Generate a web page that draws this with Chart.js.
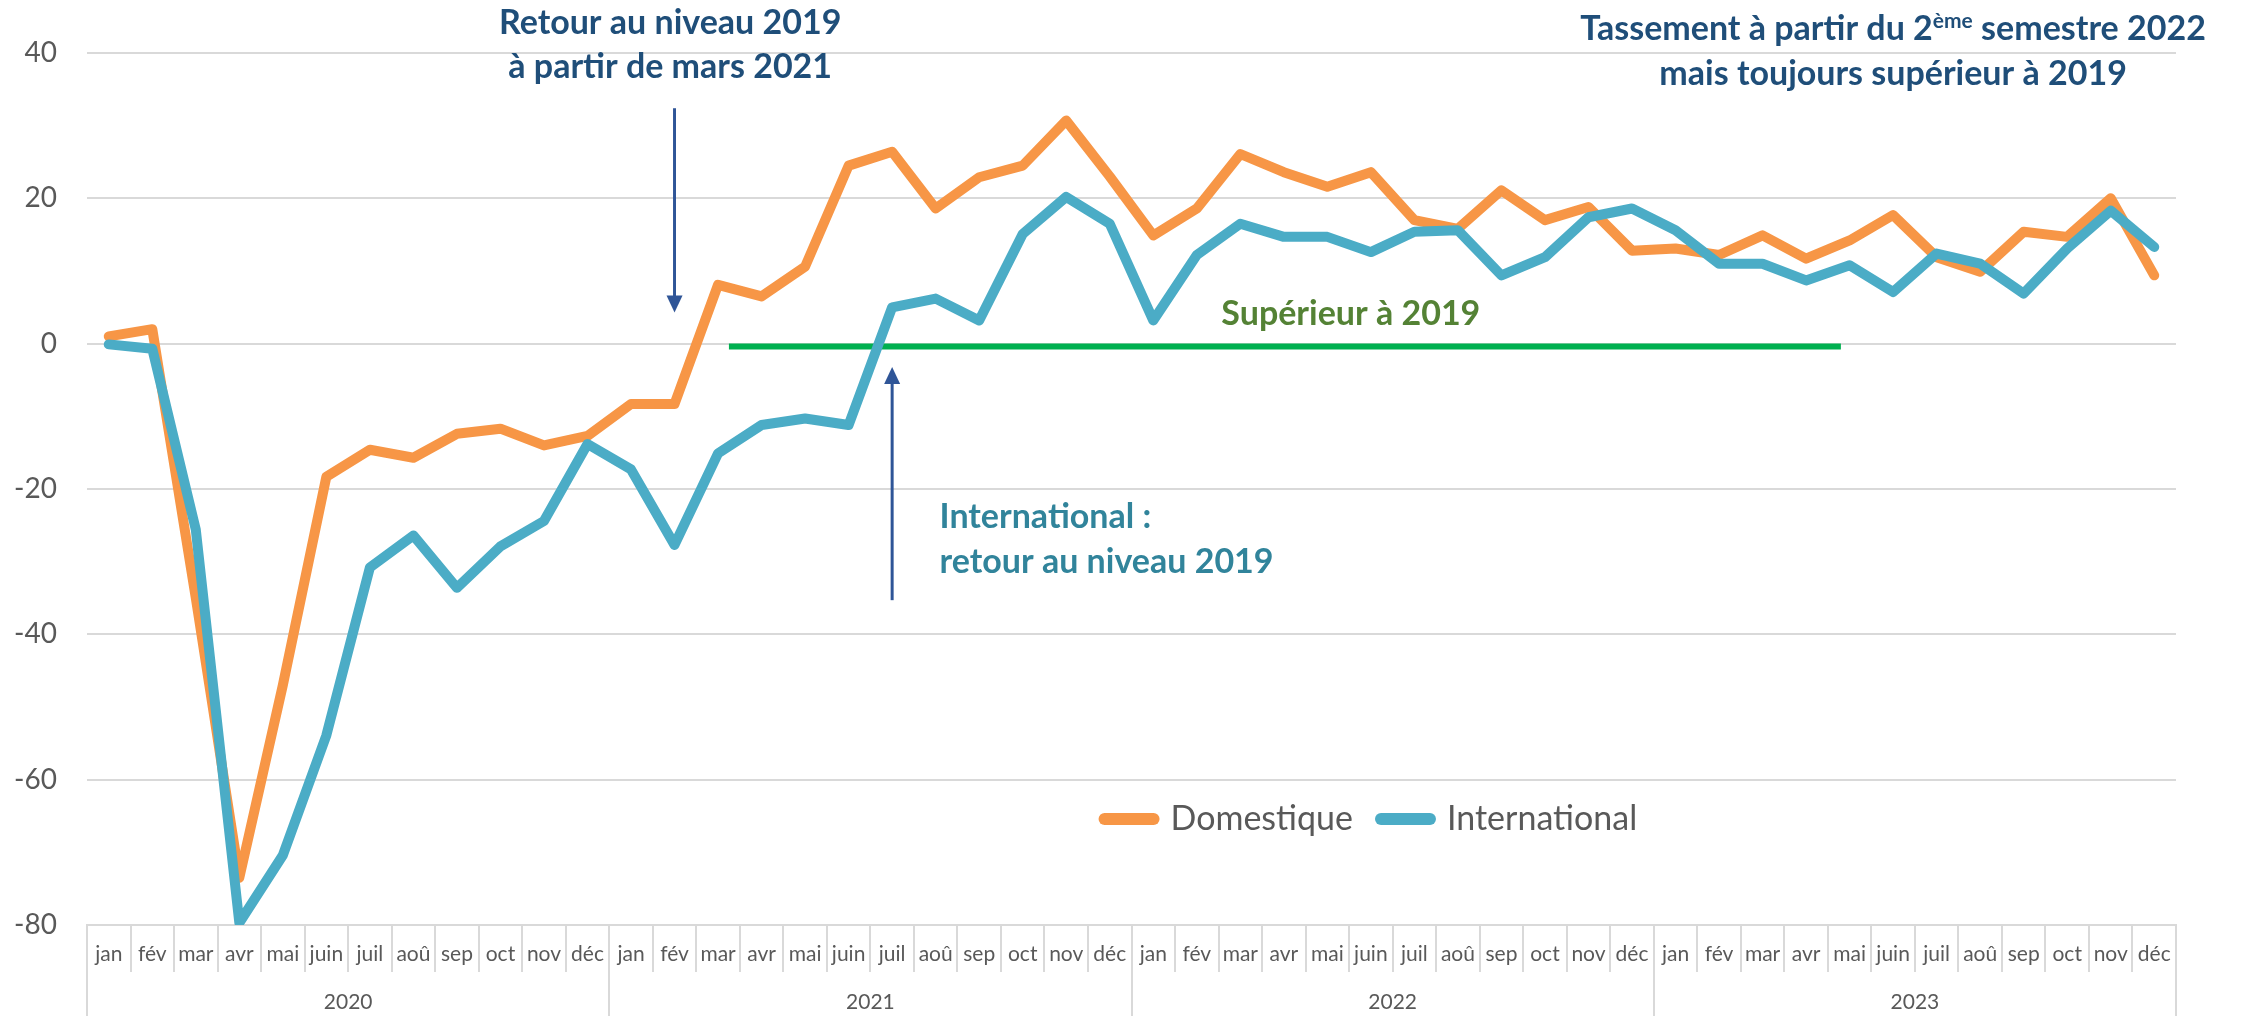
<!DOCTYPE html>
<html>
<head>
<meta charset="utf-8">
<script src="https://cdn.jsdelivr.net/npm/chart.js@4.4.0/dist/chart.umd.min.js"></script>
<style>
  html, body { margin: 0; padding: 0; background: #fff; }
</style>
</head>
<body>
<canvas id="trafficChart" width="2246" height="1016"></canvas>
<script>
// Data (% vs 2019)
const months = ['jan', 'fév', 'mar', 'avr', 'mai', 'juin', 'juil', 'aoû', 'sep', 'oct', 'nov', 'déc'];
const years = ['2020', '2021', '2022', '2023'];
const yTicks = [-80, -60, -40, -20, 0, 20, 40];

const domestique = [
    1, 2, -35, -73.5, -47, -18.3, -14.6, -15.7, -12.4, -11.7, -14, -12.7,
    -8.3, -8.3, 8.1, 6.5, 10.6, 24.5, 26.4, 18.6, 22.9, 24.5, 30.7, 23,
    14.9, 18.6, 26.1, 23.6, 21.6, 23.6, 17, 15.8, 21.1, 17, 18.8, 12.8,
    13.1, 12.2, 14.9, 11.7, 14.2, 17.7, 11.9, 9.9, 15.4, 14.7, 20, 9.4
];
const international = [
    -0.1, -0.7, -25.6, -79.7, -70.4, -53.9, -30.8, -26.4, -33.6, -27.9, -24.4, -13.8,
    -17.3, -27.7, -15.1, -11.2, -10.3, -11.2, 5, 6.2, 3.2, 15.1, 20.2, 16.5,
    3.2, 12.2, 16.5, 14.7, 14.7, 12.6, 15.4, 15.6, 9.4, 11.9, 17.4, 18.6,
    15.6, 11, 11, 8.7, 10.8, 7.1, 12.4, 11, 6.9, 13.1, 18.3, 13.3
];

// "Supérieur à 2019" reference line, in category index / value units
const refLine = { from: 14.25, to: 39.8, value: -0.4 };

const monthLabels = years.flatMap(() => months);

const GREY = '#595959';
const GRID = '#D9D9D9';
const NAVY = '#1F4E79';

Chart.defaults.font.family = 'Lato';

// Annotations, placed in data units (x = category index, y = value)
const arrows = [
    { x: 13, from: 32.4, to: 4.3 },
    { x: 18, from: -35.3, to: -3.2 }
];
const notes = [
    { x: 12.9, y: 42.6, align: 'center', color: NAVY, segs: [{ t: 'Retour au niveau 2019' }] },
    { x: 12.9, y: 36.6, align: 'center', color: NAVY, segs: [{ t: 'à partir de mars 2021' }] },
    { x: 41.0, y: 41.8, align: 'center', color: NAVY,
      segs: [{ t: 'Tassement à partir du 2' }, { t: 'ème', sup: true }, { t: ' semestre 2022' }] },
    { x: 41.0, y: 35.6, align: 'center', color: NAVY, segs: [{ t: 'mais toujours supérieur à 2019' }] },
    { x: 28.54, y: 2.54, align: 'center', color: '#548235', segs: [{ t: 'Supérieur à 2019' }] },
    { x: 19.09, y: -25.4, align: 'left', color: '#31849B', segs: [{ t: 'International :' }] },
    { x: 19.09, y: -31.5, align: 'left', color: '#31849B', segs: [{ t: 'retour au niveau 2019' }] }
];
const legendSpot = { x: 29.0, y: -65.4 };

const mainFont = 'bold 34px Lato';
const supFont = 'bold 21px Lato';

const notesPlugin = {
    id: 'notes',
    afterLayout(chart) {
        // drop the legend inside the plot area, like the original
        const lg = chart.legend;
        const xs = chart.scales.x, ys = chart.scales.y;
        const pad = lg.options.labels.padding;
        const fs = lg.options.labels.font.size;
        const dy = ys.getPixelForValue(legendSpot.y) - (lg.top + pad + fs / 2);
        const dx = xs.getPixelForValue(legendSpot.x) - (lg.left + lg.right) / 2;
        lg.top += dy;
        lg.bottom = lg.top + 2 * pad + 2 * fs;
        lg.left += dx; lg.right += dx;
    },
    beforeDatasetsDraw(chart) {
        const { ctx } = chart;
        const xs = chart.scales.x, ys = chart.scales.y;
        const y = ys.getPixelForValue(refLine.value);
        ctx.save();
        ctx.strokeStyle = '#00B050';
        ctx.lineWidth = 6;
        ctx.beginPath();
        ctx.moveTo(xs.getPixelForValue(refLine.from), y);
        ctx.lineTo(xs.getPixelForValue(refLine.to), y);
        ctx.stroke();
        ctx.restore();
    },
    afterDatasetsDraw(chart) {
        const { ctx } = chart;
        const xs = chart.scales.x, ys = chart.scales.y;
        ctx.save();

        // arrows
        arrows.forEach(a => {
            const x = xs.getPixelForValue(a.x);
            const y0 = ys.getPixelForValue(a.from);
            const y1 = ys.getPixelForValue(a.to);
            const dir = y1 > y0 ? 1 : -1;
            ctx.strokeStyle = '#2F5597';
            ctx.fillStyle = '#2F5597';
            ctx.lineWidth = 3;
            ctx.beginPath();
            ctx.moveTo(x, y0);
            ctx.lineTo(x, y1 - dir * 14);
            ctx.stroke();
            ctx.beginPath();
            ctx.moveTo(x, y1);
            ctx.lineTo(x - 8, y1 - dir * 17);
            ctx.lineTo(x + 8, y1 - dir * 17);
            ctx.closePath();
            ctx.fill();
        });

        // texts
        ctx.textBaseline = 'alphabetic';
        ctx.textAlign = 'left';
        notes.forEach(n => {
            const widths = n.segs.map(s => {
                ctx.font = s.sup ? supFont : mainFont;
                return ctx.measureText(s.t).width;
            });
            const total = widths.reduce((p, c) => p + c, 0);
            let x = xs.getPixelForValue(n.x);
            if (n.align === 'center') x -= total / 2;
            const base = ys.getPixelForValue(n.y);
            ctx.fillStyle = n.color;
            n.segs.forEach((s, i) => {
                ctx.font = s.sup ? supFont : mainFont;
                ctx.fillText(s.t, x, s.sup ? base - 12 : base);
                x += widths[i];
            });
        });
        ctx.restore();
    }
};

const ctx = document.getElementById('trafficChart').getContext('2d');
new Chart(ctx, {
    type: 'line',
    data: {
        labels: monthLabels,
        datasets: [{
            label: 'Domestique',
            data: domestique,
            borderColor: '#F79646',
            backgroundColor: '#F79646',
            pointBorderColor: '#F79646',
            pointBackgroundColor: '#F79646',
            borderWidth: 10,
            borderJoinStyle: 'round',
            borderCapStyle: 'round',
            pointRadius: 0,
            pointHoverRadius: 0,
            tension: 0,
            order: 1
        }, {
            label: 'International',
            data: international,
            borderColor: '#4BACC6',
            backgroundColor: '#4BACC6',
            pointBorderColor: '#4BACC6',
            pointBackgroundColor: '#4BACC6',
            borderWidth: 10,
            borderJoinStyle: 'round',
            borderCapStyle: 'round',
            pointRadius: 0,
            pointHoverRadius: 0,
            tension: 0,
            order: 0
        }]
    },
    options: {
        responsive: false,
        animation: false,
        devicePixelRatio: 1,
        layout: { padding: { left: 15, right: 70, top: 0, bottom: 0 } },
        plugins: {
            tooltip: { enabled: false },
            legend: {
                position: 'top',
                maxHeight: 53,
                labels: {
                    usePointStyle: true,
                    pointStyle: 'line',
                    pointStyleWidth: 49,
                    padding: 28,
                    color: GREY,
                    font: { family: 'Lato', size: 34 },
                    sort: (a, b) => a.datasetIndex - b.datasetIndex,
                    generateLabels: (chart) => Chart.defaults.plugins.legend.labels.generateLabels(chart)
                        .map(item => ({ ...item, lineCap: 'round', lineWidth: 12 }))
                }
            }
        },
        scales: {
            x: {
                offset: true,
                weight: 0,
                grid: { offset: true, drawOnChartArea: false, tickLength: 47, color: GRID, lineWidth: 2 },
                border: { display: true, color: GRID, width: 2 },
                ticks: {
                    autoSkip: false, maxRotation: 0, minRotation: 0,
                    padding: -30, color: GREY, font: { size: 21 }
                },
                afterFit: (scale) => { scale.height = 47; }
            },
            years: {
                type: 'category',
                labels: years,
                position: 'bottom',
                offset: true,
                weight: 1,
                grid: { offset: true, drawOnChartArea: false, tickLength: 44, color: GRID, lineWidth: 2 },
                border: { display: false },
                ticks: { autoSkip: false, maxRotation: 0, padding: -26, color: GREY, font: { size: 21 } },
                afterFit: (scale) => { scale.height = 44; }
            },
            y: {
                min: yTicks[0],
                max: yTicks[yTicks.length - 1],
                afterBuildTicks: (scale) => { scale.ticks = yTicks.map(v => ({ value: v })); },
                grid: { color: GRID, lineWidth: 2, drawTicks: false },
                border: { display: false },
                ticks: { padding: 30, color: GREY, font: { size: 28 } },
                afterFit: (scale) => { scale.width = 72; }
            }
        }
    },
    plugins: [notesPlugin]
});
</script>
</body>
</html>
